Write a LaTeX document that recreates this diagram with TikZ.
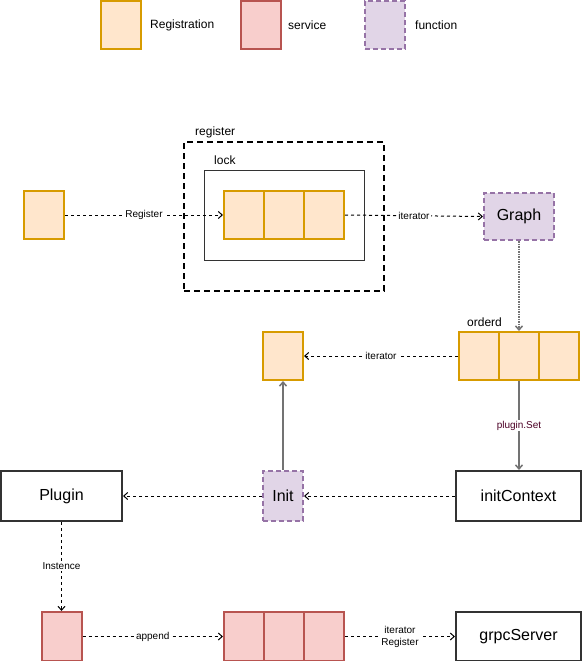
\documentclass[tikz,border=0pt]{standalone}
\usepackage{fontspec}
\setmainfont{Liberation Sans}
\usetikzlibrary{positioning,arrows.meta}
\definecolor{regfill}{HTML}{FFE6CC}
\definecolor{regline}{HTML}{D79B00}
\definecolor{srvfill}{HTML}{F8CECC}
\definecolor{srvline}{HTML}{B85450}
\definecolor{funfill}{HTML}{E1D5E7}
\definecolor{funline}{HTML}{9673A6}
\definecolor{boxline}{HTML}{333333}
\definecolor{setlabel}{HTML}{4D0026}

\tikzset{
  cell/.style={minimum width=40pt, minimum height=48pt, inner sep=0pt, line width=2pt},
  regcell/.style={cell, draw=regline, fill=regfill},
  srvcell/.style={cell, draw=srvline, fill=srvfill},
  funbox/.style={draw=funline, fill=funfill, line width=2pt, dash pattern=on 5pt off 3pt,
    inner sep=0pt, font=\fontsize{16}{18}\selectfont},
  plainbox/.style={draw=boxline, line width=2pt, minimum width=125pt, minimum height=50pt,
    inner sep=0pt, font=\fontsize{16}{18}\selectfont},
  smalltext/.style={inner sep=0pt, anchor=west, font=\fontsize{12}{14}\selectfont},
  edgelabel/.style={fill=white, inner sep=1pt, font=\fontsize{10}{12}\selectfont},
  tip/.style={-{Straight Barb[length=4pt,width=7pt]}},
  flow/.style={tip, dashed, line width=1pt},
  solidflow/.style={tip, draw=black!55, line width=1.5pt}
}

\begin{document}
\begin{tikzpicture}[x=1pt, y=-1pt]
    \useasboundingbox (0,0) rectangle (582,661);

    % Legend
    \node[regcell] (legreg) at (121,25) {};
    \node[smalltext] (legregtxt) at (150,25) {Registration};
    \node[srvcell] (legsrv) at (261,25) {};
    \node[smalltext] (legsrvtxt) at (288,25) {service};
    \node[funbox, minimum width=40pt, minimum height=48pt] (legfun) at (385,25) {};
    \node[smalltext] (legfuntxt) at (415,25) {function};

    % register / lock
    \node[draw, line width=2pt, dash pattern=on 6pt off 4pt, minimum width=200pt, minimum height=149pt] (register) at (284,216.5) {};
    \node[smalltext] (registertxt) at (195,132) {register};
    \node[draw=black!80, line width=1pt, minimum width=160pt, minimum height=90pt] (lock) at (284,215) {};
    \node[smalltext] (locktxt) at (214,160) {lock};

    % Arrays
    \foreach \i/\x in {1/244, 2/284, 3/324} {
        \node[regcell] (reg\i) at (\x,215) {};
        \node[srvcell, minimum height=49pt] (srv\i) at (\x,636.5) {};
    }
    \foreach \i/\x in {1/479, 2/519, 3/559} {
        \node[regcell] (ord\i) at (\x,356) {};
    }
    \node[smalltext] (ordtxt) at (467,322) {orderd};

    % Single cells
    \node[regcell] (newreg) at (44,215) {};
    \node[regcell] (item) at (283,356) {};
    \node[srvcell, minimum height=49pt] (srvone) at (61.5,636.5) {};

    % Functions and boxes
    \node[funbox, minimum width=70pt, minimum height=47pt] (graph) at (519,216.5) {Graph};
    \node[funbox, minimum width=40pt, minimum height=50pt] (init) at (283,496) {Init};
    \node[plainbox] (ctx) at (518.5,496) {initContext};
    \node[plainbox, minimum width=121pt] (plugin) at (61.5,496) {Plugin};
    \node[plainbox, minimum height=49pt] (grpc) at (518.5,636.5) {grpcServer};

    % Connectors
    \draw[flow] (newreg.east) -- node[edgelabel] {Register} (reg1.west);
    \draw[flow] (reg3.east) -- node[edgelabel] {iterator} (graph.west);
    \draw[tip, draw=black!55, line width=1.5pt, dash pattern=on 1.5pt off 1pt] (graph.south) -- (ord2.north);
    \draw[flow] (ord1.west) -- node[edgelabel] {iterator} (item.east);
    \draw[solidflow] (ord2.south) -- node[edgelabel, text=setlabel] {plugin.Set} (ord2.south |- ctx.north);
    \draw[flow] (ctx.west) -- (init.east);
    \draw[solidflow] (init.north) -- (item.south);
    \draw[flow] (init.west) -- (plugin.east);
    \draw[flow] (plugin.south) -- node[edgelabel] {Instence} (srvone.north);
    \draw[flow] (srvone.east) -- node[edgelabel] {append} (srv1.west);
    \draw[flow] (srv3.east) -- node[edgelabel, align=center] {iterator\\Register} (grpc.west);
\end{tikzpicture}
\end{document}
